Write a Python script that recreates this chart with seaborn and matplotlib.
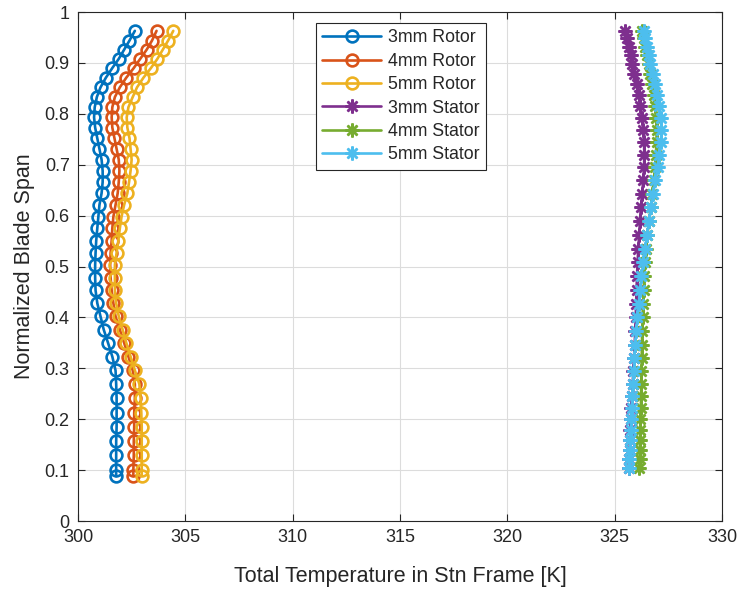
import matplotlib
matplotlib.use("Agg")
import matplotlib.pyplot as plt
import numpy as np
import pandas as pd
import seaborn as sns

# Spanwise stations (normalized blade span)
rotor_span = [0.088, 0.100, 0.129, 0.157, 0.185, 0.213, 0.241, 0.269, 0.296, 0.323,
              0.350, 0.376, 0.402, 0.428, 0.453, 0.478, 0.503, 0.527, 0.551, 0.575,
              0.598, 0.621, 0.644, 0.666, 0.688, 0.710, 0.731, 0.752, 0.773, 0.793,
              0.813, 0.833, 0.852, 0.871, 0.890, 0.908, 0.926, 0.944, 0.963]
stator_span = [0.105, 0.122, 0.140, 0.159, 0.179, 0.200, 0.222, 0.245, 0.269, 0.294,
               0.320, 0.346, 0.373, 0.400, 0.427, 0.454, 0.481, 0.508, 0.535, 0.562,
               0.589, 0.616, 0.643, 0.669, 0.695, 0.720, 0.745, 0.769, 0.792, 0.815,
               0.837, 0.858, 0.878, 0.897, 0.915, 0.932, 0.948, 0.963]

# Total temperature in station frame [K]
rotor_3mm = [301.78, 301.78, 301.78, 301.78, 301.80, 301.80, 301.80, 301.78, 301.75, 301.60,
             301.40, 301.20, 301.05, 300.90, 300.82, 300.80, 300.80, 300.82, 300.85, 300.90,
             300.95, 301.00, 301.10, 301.15, 301.15, 301.10, 301.00, 300.90, 300.80, 300.75,
             300.78, 300.88, 301.05, 301.30, 301.60, 301.90, 302.15, 302.40, 302.65]
rotor_4mm = [302.58, 302.58, 302.60, 302.60, 302.62, 302.62, 302.65, 302.65, 302.55, 302.35,
             302.15, 301.95, 301.75, 301.65, 301.57, 301.52, 301.50, 301.52, 301.57, 301.60,
             301.65, 301.75, 301.85, 301.90, 301.93, 301.90, 301.80, 301.70, 301.60, 301.57,
             301.60, 301.72, 301.95, 302.25, 302.60, 302.90, 303.20, 303.45, 303.66]
rotor_5mm = [302.97, 302.97, 302.97, 302.97, 302.97, 302.95, 302.92, 302.86, 302.65, 302.45,
             302.25, 302.08, 301.90, 301.78, 301.72, 301.72, 301.72, 301.80, 301.88, 301.95,
             302.03, 302.15, 302.30, 302.38, 302.45, 302.50, 302.45, 302.40, 302.30, 302.27,
             302.35, 302.55, 302.75, 303.05, 303.40, 303.70, 303.95, 304.20, 304.44]
stator_3mm = [325.67, 325.68, 325.70, 325.71, 325.73, 325.75, 325.78, 325.81, 325.84, 325.87,
              325.90, 325.93, 325.96, 325.98, 326.00, 326.02, 326.04, 326.07, 326.10, 326.14,
              326.18, 326.22, 326.28, 326.33, 326.37, 326.38, 326.37, 326.33, 326.27, 326.20,
              326.12, 326.02, 325.92, 325.82, 325.75, 325.68, 325.58, 325.48]
stator_4mm = [326.15, 326.16, 326.17, 326.18, 326.19, 326.20, 326.22, 326.23, 326.24, 326.25,
              326.26, 326.27, 326.28, 326.30, 326.32, 326.35, 326.38, 326.42, 326.47, 326.53,
              326.60, 326.68, 326.75, 326.82, 326.88, 326.92, 326.95, 326.95, 326.93, 326.88,
              326.82, 326.74, 326.66, 326.58, 326.50, 326.42, 326.35, 326.28]
stator_5mm = [325.67, 325.69, 325.71, 325.73, 325.75, 325.77, 325.79, 325.82, 325.85, 325.88,
              325.92, 325.96, 326.00, 326.06, 326.12, 326.18, 326.25, 326.33, 326.42, 326.50,
              326.60, 326.70, 326.80, 326.90, 327.00, 327.08, 327.15, 327.18, 327.15, 327.08,
              326.98, 326.88, 326.77, 326.67, 326.58, 326.50, 326.42, 326.35]

labels = ["3mm Rotor", "4mm Rotor", "5mm Rotor", "3mm Stator", "4mm Stator", "5mm Stator"]
colors = ["#0072BD", "#D95319", "#EDB120", "#7E2F8E", "#77AC30", "#4DBEEE"]

x_ticks = [300, 305, 310, 315, 320, 325, 330]
y_ticks = [0, 0.1, 0.2, 0.3, 0.4, 0.5, 0.6, 0.7, 0.8, 0.9, 1]
y_tick_labels = ["0", "0.1", "0.2", "0.3", "0.4", "0.5", "0.6", "0.7", "0.8", "0.9", "1"]

sns.set_style("white")
plt.rcParams["font.family"] = ["Liberation Sans", "DejaVu Sans"]

axis_color = "#262626"

fig = plt.figure(figsize=(7.44, 5.89), dpi=100)
ax = fig.add_axes([0.1048, 0.1154, 0.8656, 0.8642])

series = [
    (rotor_3mm, rotor_span), (rotor_4mm, rotor_span), (rotor_5mm, rotor_span),
    (stator_3mm, stator_span), (stator_4mm, stator_span), (stator_5mm, stator_span),
]
asterisk = (8, 2, 0)
for i, ((temps, span), lab, col) in enumerate(zip(series, labels, colors)):
    df = pd.DataFrame({"T": temps, "span": span})
    if i < 3:
        sns.lineplot(data=df, x="T", y="span", orient="y", sort=False, ax=ax,
                     color=col, linewidth=1.9, marker="o", markersize=8.5,
                     markerfacecolor="none", markeredgecolor=col,
                     markeredgewidth=1.9, label=lab)
    else:
        sns.lineplot(data=df, x="T", y="span", orient="y", sort=False, ax=ax,
                     color=col, linewidth=1.9, marker=asterisk, markersize=10,
                     markerfacecolor=col, markeredgecolor=col,
                     markeredgewidth=1.8, label=lab)

ax.set_xlim(300, 330)
ax.set_ylim(0, 1)
ax.set_xticks(x_ticks)
ax.set_yticks(y_ticks)
ax.set_yticklabels(y_tick_labels)
ax.grid(True, color="#dcdcdc", linewidth=0.8)
ax.set_axisbelow(True)
ax.tick_params(direction="in", length=5, width=0.8, colors=axis_color,
               labelsize=13, top=True, right=True, bottom=True, left=True,
               labelcolor=axis_color, pad=6)
for s in ax.spines.values():
    s.set_color(axis_color)
    s.set_linewidth(0.8)

ax.set_xlabel("Total Temperature in Stn Frame [K]", fontsize=15.5, color=axis_color, labelpad=14)
ax.set_ylabel("Normalized Blade Span", fontsize=15.5, color=axis_color, labelpad=7)

leg = ax.legend(loc="upper left", bbox_to_anchor=(0.3696, 0.978), borderaxespad=0,
                fontsize=12.8, frameon=True, fancybox=False, edgecolor=axis_color,
                handlelength=3.3, handletextpad=0.4, borderpad=0.35,
                labelspacing=0.36, framealpha=1)
leg.get_frame().set_linewidth(0.8)

fig.savefig("out.png", dpi=100)
